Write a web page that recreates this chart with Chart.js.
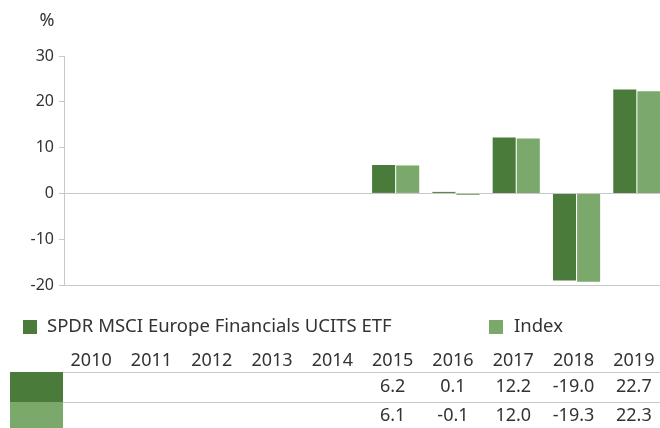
<!DOCTYPE html>
<html>
<head>
<meta charset="utf-8">
<script src="https://cdn.jsdelivr.net/npm/chart.js@4.4.0/dist/chart.umd.min.js"></script>
<style>
  html, body { margin: 0; padding: 0; background: #fff; overflow: hidden; }
  #wrap { position: relative; width: 667px; height: 428px; }
</style>
</head>
<body>
<div id="wrap"><canvas id="chart"></canvas></div>
<script>
// data
const years = ['2010', '2011', '2012', '2013', '2014', '2015', '2016', '2017', '2018', '2019'];
const etfName = 'SPDR MSCI Europe Financials UCITS ETF';
const indexName = 'Index';
const etfValues = [null, null, null, null, null, 6.2, 0.1, 12.2, -19.0, 22.7];
const indexValues = [null, null, null, null, null, 6.1, -0.1, 12.0, -19.3, 22.3];
const yTicks = [-20, -10, 0, 10, 20, 30];

const darkGreen = '#4a7b3a';
const lightGreen = '#7aa96b';
const textColor = '#333333';
const lineColor = '#c8c8c8';
const font = '"Noto Sans", "DejaVu Sans", sans-serif';

const fmt = v => (v === null ? '' : v.toFixed(1));

// draws the "%" unit, the legend and the data table under the plot
const extrasPlugin = {
    id: 'extras',
    afterDraw(chart) {
        const ctx = chart.ctx;
        const x = chart.scales.x;
        ctx.save();
        ctx.fillStyle = textColor;
        ctx.textBaseline = 'middle';

        ctx.font = '18px ' + font;
        ctx.textAlign = 'center';
        ctx.fillText('%', 47, 21);

        // legend
        ctx.font = '18.5px ' + font;
        ctx.textAlign = 'left';
        ctx.fillStyle = darkGreen;
        ctx.fillRect(23, 320, 14, 14);
        ctx.fillStyle = textColor;
        ctx.fillText(etfName, 47, 327);
        ctx.fillStyle = lightGreen;
        ctx.fillRect(489, 320, 14, 14);
        ctx.fillStyle = textColor;
        ctx.fillText(indexName, 514, 327);

        // table
        ctx.fillStyle = darkGreen;
        ctx.fillRect(10, 372, 53, 30);
        ctx.fillStyle = lightGreen;
        ctx.fillRect(10, 402, 53, 30);

        ctx.strokeStyle = lineColor;
        ctx.lineWidth = 1;
        [372.5, 402.5].forEach(y => {
            ctx.beginPath();
            ctx.moveTo(63, y);
            ctx.lineTo(chart.width, y);
            ctx.stroke();
        });

        ctx.font = '18px ' + font;
        ctx.fillStyle = textColor;
        ctx.textAlign = 'center';
        years.forEach((yr, i) => {
            const cx = x.getPixelForValue(i) - 3;
            ctx.fillText(yr, cx, 361);
            ctx.fillText(fmt(etfValues[i]), cx, 387);
            ctx.fillText(fmt(indexValues[i]), cx, 416);
        });
        ctx.restore();
    }
};

new Chart(document.getElementById('chart'), {
    type: 'bar',
    data: {
        labels: years,
        datasets: [
            {
                label: etfName,
                data: etfValues,
                backgroundColor: darkGreen,
                categoryPercentage: 0.8,
                barPercentage: 0.955,
                minBarLength: 1.5
            },
            {
                label: indexName,
                data: indexValues,
                backgroundColor: lightGreen,
                categoryPercentage: 0.8,
                barPercentage: 0.955,
                minBarLength: 1.5
            }
        ]
    },
    options: {
        responsive: true,
        maintainAspectRatio: false,
        animation: false,
        layout: { padding: { top: 56, bottom: 143, left: 0, right: 0 } },
        plugins: {
            legend: { display: false },
            tooltip: { enabled: false }
        },
        scales: {
            x: { display: false },
            y: {
                min: -20,
                max: 30,
                afterBuildTicks: axis => { axis.ticks = yTicks.map(v => ({ value: v })); },
                afterFit: axis => { axis.width = 64; },
                border: { display: true, color: lineColor },
                grid: {
                    color: c => (c.tick && (c.tick.value === 0 || c.tick.value === -20) ? lineColor : 'rgba(0,0,0,0)'),
                    tickColor: lineColor,
                    tickLength: 5
                },
                ticks: {
                    color: textColor,
                    padding: 5,
                    font: { family: font, size: 16 }
                }
            }
        }
    },
    plugins: [extrasPlugin]
});
</script>
</body>
</html>
